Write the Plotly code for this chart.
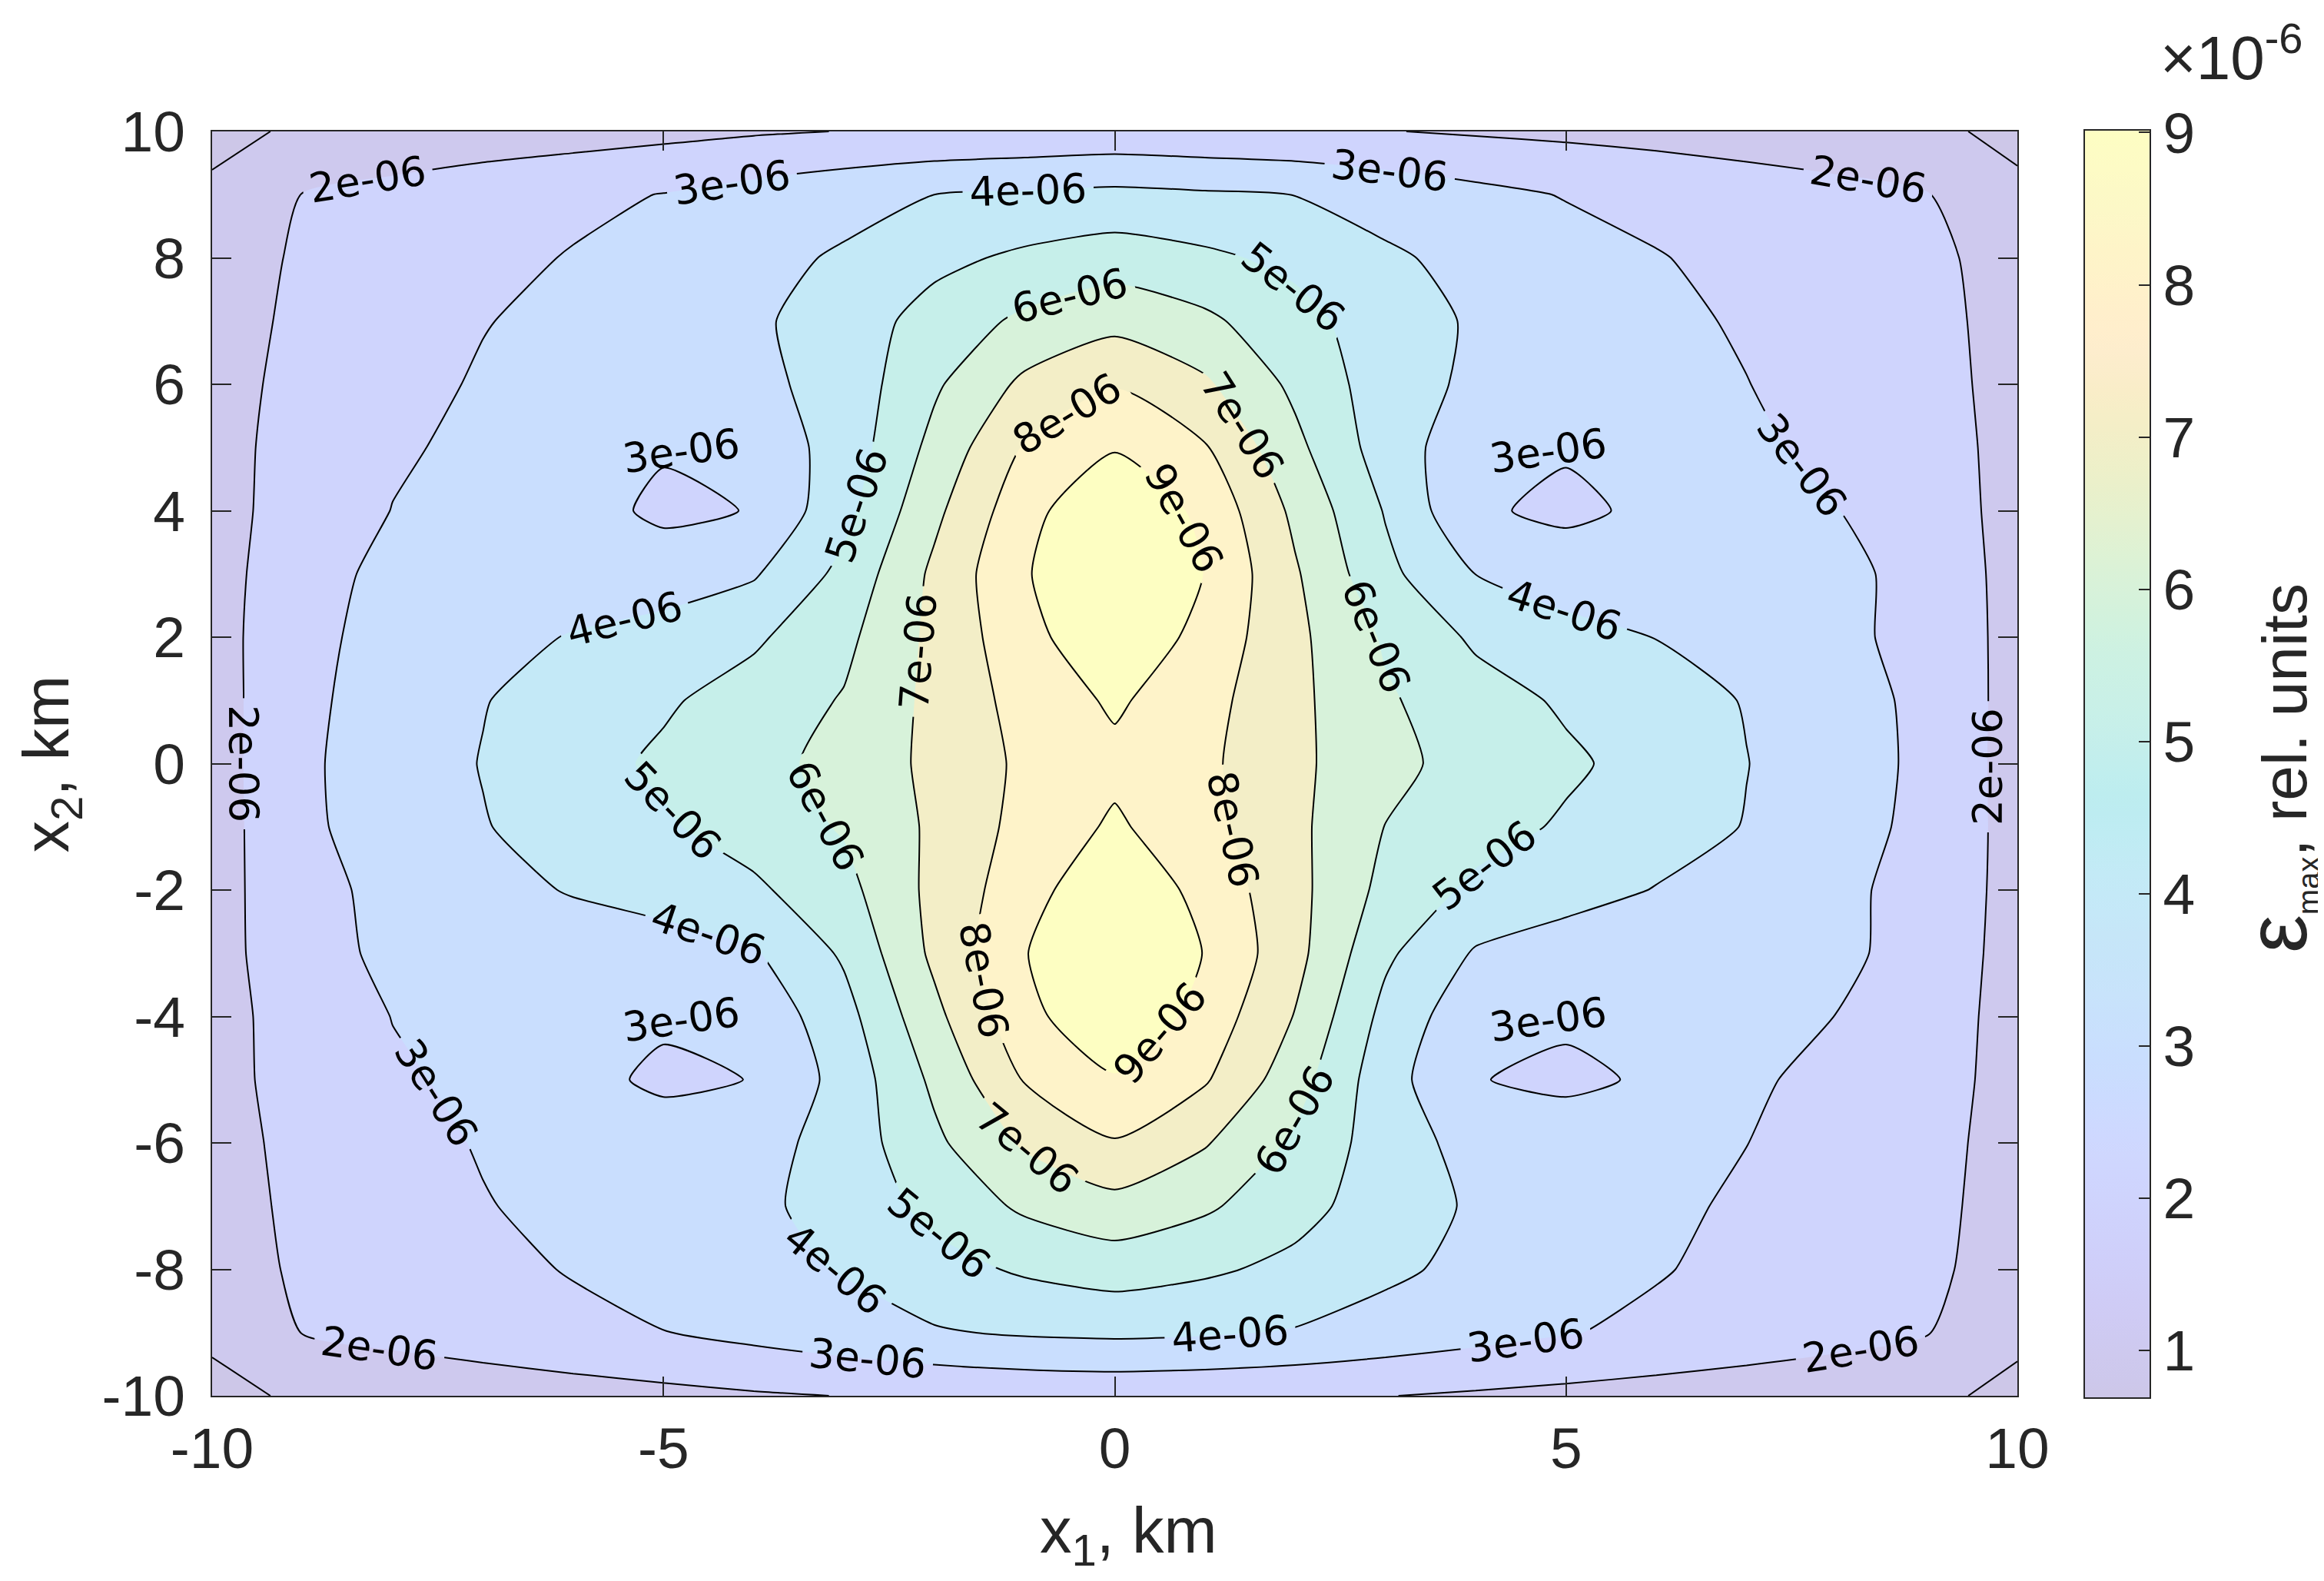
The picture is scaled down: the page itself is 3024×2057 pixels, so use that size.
import plotly.graph_objects as go

# ---------------- data (eps_max in units of 1e-6) ----------------
x_km = list(range(-10, 11))
y_km = list(range(-10, 11))

# one row per x2 value (km), columns are x1 = -10 ... 10 km
row_p10 = [0.69, 1.17, 1.37, 1.50, 1.60, 1.74, 1.90, 2.02, 2.12, 2.21, 2.31, 2.21, 2.12, 2.03, 1.90, 1.80, 1.68, 1.54, 1.45, 1.26, 0.69]
row_p09 = [1.20, 2.02, 2.27, 2.52, 2.77, 3.03, 3.36, 3.68, 4.00, 4.12, 4.24, 4.12, 3.99, 3.63, 3.27, 2.95, 2.72, 2.50, 2.26, 2.04, 1.26]
row_p08 = [1.74, 2.07, 2.40, 2.73, 3.06, 3.39, 3.73, 4.11, 4.74, 5.19, 5.51, 5.19, 4.76, 4.14, 3.73, 3.39, 3.05, 2.74, 2.42, 2.11, 1.80]
row_p07 = [1.73, 2.13, 2.54, 2.96, 3.26, 3.56, 3.85, 4.45, 5.40, 6.20, 6.70, 6.20, 5.34, 4.47, 3.88, 3.55, 3.23, 2.89, 2.53, 2.16, 1.80]
row_p06 = [1.73, 2.21, 2.68, 3.10, 3.30, 3.50, 3.75, 4.38, 5.85, 7.21, 7.94, 7.15, 5.78, 4.47, 3.80, 3.50, 3.25, 3.02, 2.61, 2.20, 1.80]
row_p05 = [1.72, 2.30, 2.88, 3.20, 3.15, 3.07, 3.35, 4.41, 6.29, 8.08, 8.92, 8.08, 6.25, 4.52, 3.35, 3.07, 3.12, 3.15, 2.80, 2.27, 1.79]
row_p04 = [1.70, 2.36, 3.02, 3.20, 3.30, 2.85, 3.03, 4.71, 6.77, 8.64, 9.95, 8.74, 6.78, 4.93, 3.10, 2.85, 3.15, 3.20, 3.02, 2.39, 1.74]
row_p03 = [1.66, 2.55, 3.30, 3.40, 3.45, 3.40, 3.90, 5.27, 7.20, 8.92, 9.90, 8.98, 7.11, 5.25, 3.99, 3.40, 3.45, 3.40, 3.30, 2.60, 1.68]
row_p02 = [1.59, 2.78, 3.28, 3.67, 4.06, 4.45, 4.84, 5.75, 7.25, 8.65, 9.85, 8.66, 7.23, 5.88, 4.83, 4.41, 3.98, 3.60, 3.22, 2.70, 1.66]
row_p01 = [1.57, 2.80, 3.41, 3.96, 4.42, 4.87, 5.43, 6.07, 7.26, 8.36, 9.15, 8.33, 7.24, 6.12, 5.43, 4.86, 4.41, 3.95, 3.39, 2.78, 1.63]
row_000 = [1.55, 2.85, 3.45, 4.04, 4.62, 5.17, 5.68, 6.31, 7.24, 8.19, 8.75, 8.19, 7.23, 6.25, 5.65, 5.17, 4.62, 4.02, 3.43, 2.80, 1.60]
row_m01 = [1.54, 2.83, 3.41, 3.95, 4.42, 4.88, 5.45, 6.09, 7.18, 8.32, 9.15, 8.31, 7.23, 5.98, 5.40, 4.87, 4.42, 3.96, 3.38, 2.75, 1.64]
row_m02 = [1.60, 2.70, 3.25, 3.67, 4.07, 4.45, 4.82, 5.68, 7.27, 8.58, 9.85, 8.67, 7.30, 5.71, 4.79, 4.38, 3.96, 3.58, 3.20, 2.68, 1.65]
row_m03 = [1.67, 2.55, 3.25, 3.35, 3.45, 3.50, 3.90, 5.14, 7.21, 8.96, 9.90, 8.97, 7.31, 5.18, 3.90, 3.50, 3.45, 3.35, 3.25, 2.55, 1.67]
row_m04 = [1.70, 2.36, 3.02, 3.20, 3.20, 3.12, 3.30, 4.64, 6.74, 8.68, 9.90, 8.61, 6.95, 4.70, 3.30, 3.12, 3.20, 3.20, 2.99, 2.36, 1.73]
row_m05 = [1.73, 2.30, 2.88, 3.18, 3.25, 2.85, 3.02, 4.36, 6.20, 8.06, 8.90, 8.10, 6.42, 4.40, 3.03, 2.85, 3.10, 3.12, 2.78, 2.26, 1.77]
row_m06 = [1.73, 2.20, 2.67, 3.07, 3.20, 3.40, 3.60, 4.42, 5.79, 7.14, 7.93, 7.08, 5.84, 4.48, 3.65, 3.40, 3.18, 3.01, 2.60, 2.19, 1.77]
row_m07 = [1.73, 2.14, 2.55, 2.95, 3.25, 3.53, 3.82, 4.33, 5.29, 6.17, 6.67, 6.15, 5.35, 4.49, 3.87, 3.53, 3.20, 2.86, 2.50, 2.14, 1.78]
row_m08 = [1.75, 2.08, 2.41, 2.74, 3.06, 3.39, 3.71, 4.06, 4.65, 5.13, 5.44, 5.16, 4.75, 4.18, 3.76, 3.41, 3.07, 2.74, 2.42, 2.10, 1.77]
row_m09 = [1.20, 2.02, 2.25, 2.50, 2.74, 2.98, 3.28, 3.59, 3.91, 4.11, 4.19, 4.10, 3.93, 3.63, 3.34, 3.05, 2.79, 2.54, 2.29, 2.04, 1.26]
row_m10 = [0.69, 1.17, 1.35, 1.45, 1.60, 1.75, 1.90, 2.02, 2.12, 2.22, 2.27, 2.22, 2.12, 2.02, 1.88, 1.75, 1.62, 1.50, 1.40, 1.26, 0.69]

z_rows = [row_m10, row_m09, row_m08, row_m07, row_m06, row_m05, row_m04, row_m03, row_m02, row_m01,
          row_000, row_p01, row_p02, row_p03, row_p04, row_p05, row_p06, row_p07, row_p08, row_p09, row_p10]

contour_levels = [1, 2, 3, 4, 5, 6, 7, 8, 9]
cbar_range = [0.69, 9.02]
x_ticks = [-10, -5, 0, 5, 10]
x_ticklabels = ["-10", "-5", "0", "5", "10"]
y_ticks = [-10, -8, -6, -4, -2, 0, 2, 4, 6, 8, 10]
y_ticklabels = ["-10", "-8", "-6", "-4", "-2", "0", "2", "4", "6", "8", "10"]
cbar_ticks = [1, 2, 3, 4, 5, 6, 7, 8, 9]
cbar_ticklabels = ["1", "2", "3", "4", "5", "6", "7", "8", "9"]

# empty levels above the data only raise plotly's label density (MATLAB-like labelling)
LABEL_LEVEL_END = 57
HYPHEN = "\u2011"  # non-breaking hyphen, shown like "-" in the labels


def level_label(v):
    return f"{v}e{HYPHEN}06"


# ---------------- colours (parula, semi-transparent on white) ----------------
PARULA = [
    (0.2422, 0.1504, 0.6603), (0.2504, 0.1650, 0.7076), (0.2578, 0.1818, 0.7511), (0.2647, 0.1978, 0.7952),
    (0.2706, 0.2147, 0.8364), (0.2751, 0.2342, 0.8710), (0.2783, 0.2559, 0.8991), (0.2803, 0.2782, 0.9221),
    (0.2813, 0.3006, 0.9414), (0.2810, 0.3228, 0.9579), (0.2795, 0.3447, 0.9717), (0.2760, 0.3667, 0.9829),
    (0.2699, 0.3892, 0.9906), (0.2602, 0.4123, 0.9952), (0.2440, 0.4358, 0.9988), (0.2206, 0.4603, 0.9973),
    (0.1963, 0.4847, 0.9892), (0.1834, 0.5074, 0.9798), (0.1786, 0.5289, 0.9682), (0.1764, 0.5499, 0.9520),
    (0.1687, 0.5703, 0.9359), (0.1540, 0.5902, 0.9218), (0.1460, 0.6091, 0.9079), (0.1380, 0.6276, 0.8973),
    (0.1248, 0.6459, 0.8883), (0.1113, 0.6635, 0.8763), (0.0952, 0.6798, 0.8598), (0.0689, 0.6948, 0.8394),
    (0.0297, 0.7082, 0.8163), (0.0036, 0.7203, 0.7917), (0.0067, 0.7312, 0.7660), (0.0433, 0.7411, 0.7394),
    (0.0964, 0.7500, 0.7120), (0.1408, 0.7584, 0.6842), (0.1717, 0.7670, 0.6554), (0.1938, 0.7758, 0.6251),
    (0.2161, 0.7843, 0.5923), (0.2470, 0.7918, 0.5567), (0.2906, 0.7973, 0.5188), (0.3406, 0.8008, 0.4789),
    (0.3909, 0.8029, 0.4354), (0.4456, 0.8024, 0.3909), (0.5044, 0.7993, 0.3480), (0.5616, 0.7942, 0.3045),
    (0.6174, 0.7876, 0.2612), (0.6720, 0.7793, 0.2227), (0.7242, 0.7698, 0.1910), (0.7738, 0.7598, 0.1646),
    (0.8203, 0.7498, 0.1535), (0.8634, 0.7406, 0.1596), (0.9035, 0.7330, 0.1774), (0.9393, 0.7288, 0.2100),
    (0.9728, 0.7298, 0.2394), (0.9956, 0.7434, 0.2371), (0.9970, 0.7659, 0.2199), (0.9952, 0.7893, 0.2028),
    (0.9892, 0.8136, 0.1885), (0.9786, 0.8386, 0.1766), (0.9676, 0.8639, 0.1643), (0.9610, 0.8890, 0.1537),
    (0.9597, 0.9135, 0.1423), (0.9628, 0.9373, 0.1265), (0.9691, 0.9606, 0.1064), (0.9769, 0.9839, 0.0805),
]
ALPHA = 0.26


def blend(c):
    r, g, b = (round(255 * (1 - ALPHA * (1 - v))) for v in c)
    return f"rgb({r},{g},{b})"


def parula_at(v):
    t = (v - cbar_range[0]) / (cbar_range[1] - cbar_range[0])
    idx = min(63, max(0, int(t * 64)))
    return PARULA[idx]


# continuous scale for the colour bar
cbar_scale = [[i / 63, blend(c)] for i, c in enumerate(PARULA)]

# filled bands: each band uses the colour of its lower bound (MATLAB contourf style)
band_values = [cbar_range[0]] + contour_levels
n_levels = LABEL_LEVEL_END - contour_levels[0] + 1
band_scale = [[k / n_levels, blend(parula_at(v))] for k, v in enumerate(band_values)]
band_scale.append([1.0, band_scale[-1][1]])

AX = "#262626"
SANS = "Liberation Sans, Arial, sans-serif"
TICK_FONT = dict(family=SANS, size=75, color=AX)
LABEL_FONT = dict(family="DejaVu Sans", size=53, color="black")

fig = go.Figure()

# heatmap hidden under the opaque contour fill, providing the continuous colour bar
fig.add_trace(go.Heatmap(
    x=x_km, y=y_km, z=z_rows,
    colorscale=cbar_scale, zmin=cbar_range[0], zmax=cbar_range[1],
    hoverinfo="skip",
    colorbar=dict(
        x=(2704 - 268) / 2349, xanchor="left", xpad=0,
        y=0.5, yanchor="middle", ypad=0,
        len=1650, lenmode="pixels",
        thickness=86, thicknessmode="pixels",
        outlinewidth=2, outlinecolor=AX,
        ticks="inside", ticklen=16, tickwidth=2, tickcolor=AX,
        tickmode="array", tickvals=cbar_ticks, ticktext=cbar_ticklabels,
        tickfont=TICK_FONT,
    ),
))

fig.add_trace(go.Contour(
    x=x_km, y=y_km, z=z_rows,
    colorscale=band_scale,
    showscale=False,
    autocontour=False,
    contours=dict(
        start=contour_levels[0], end=LABEL_LEVEL_END, size=1,
        coloring="fill",
        showlabels=True,
        labelformat="$.0f",
        labelfont=LABEL_FONT,
    ),
    line=dict(color="black", width=2, smoothing=0.6),
    hoverinfo="skip",
))

# labels for the small closed contours (too short for plotly's automatic labels):
# found from the data as isolated grid minima below a contour level
island_annotations = []
ny, nx = len(y_km), len(x_km)
for j in range(1, ny - 1):
    for i in range(1, nx - 1):
        v = z_rows[j][i]
        nbrs = [z_rows[j - 1][i], z_rows[j + 1][i], z_rows[j][i - 1], z_rows[j][i + 1]]
        for lev in contour_levels:
            if v < lev and all(n >= lev for n in nbrs):
                xs = x_km[i]
                island_annotations.append(dict(
                    text=level_label(lev), xref="x", yref="y",
                    x=xs - 0.2 * (1 if xs > 0 else -1), y=y_km[j] + 0.95,
                    xanchor="center", yanchor="middle", showarrow=False,
                    textangle=-8, font=LABEL_FONT,
                ))

axis_common = dict(
    range=[-10, 10], showgrid=False, zeroline=False,
    showline=True, linecolor=AX, linewidth=2, mirror="ticks",
    ticks="inside", ticklen=25, tickwidth=2, tickcolor=AX,
    tickfont=TICK_FONT, tickmode="array",
)

cbar_title = ("<span style='font-size:112px'>\u03b5</span>"
              "<sub><span style='font-size:40px'>max</span></sub>, rel. units")

fig.update_layout(
    width=3024, height=2057,
    margin=dict(l=268, r=407, t=163, b=249, pad=0),
    paper_bgcolor="white", plot_bgcolor="white",
    xaxis=dict(**axis_common, tickvals=x_ticks, ticktext=x_ticklabels, ticklabelstandoff=2),
    yaxis=dict(**axis_common, tickvals=y_ticks, ticktext=y_ticklabels, ticklabelstandoff=18),
    showlegend=False,
    annotations=[
        dict(text="x<sub>1</sub>, km", xref="paper", yref="paper", x=0.5075, y=-0.11,
             xanchor="center", yanchor="middle", showarrow=False,
             font=dict(family=SANS, size=83, color=AX)),
        dict(text="x<sub>2</sub>, km", xref="paper", yref="paper", x=-0.0894, y=0.5,
             xanchor="center", yanchor="middle", showarrow=False, textangle=-90,
             font=dict(family=SANS, size=83, color=AX)),
        dict(text=cbar_title, xref="paper", yref="paper", x=1.1439, y=0.496,
             xanchor="center", yanchor="middle", showarrow=False, textangle=-90,
             font=dict(family=SANS, size=82, color=AX)),
        dict(text="\u00d710<sup>-6</sup>", xref="paper", yref="paper", x=1.1188, y=1.062,
             xanchor="center", yanchor="middle", showarrow=False,
             font=dict(family=SANS, size=80, color=AX)),
    ] + island_annotations,
)

fig.write_html(
    "out.html",
    config={
        "locale": "epslabels",
        "locales": {"epslabels": {"format": {"currency": ["", "e" + HYPHEN + "06"]}}},
        "displayModeBar": False,
    },
)
